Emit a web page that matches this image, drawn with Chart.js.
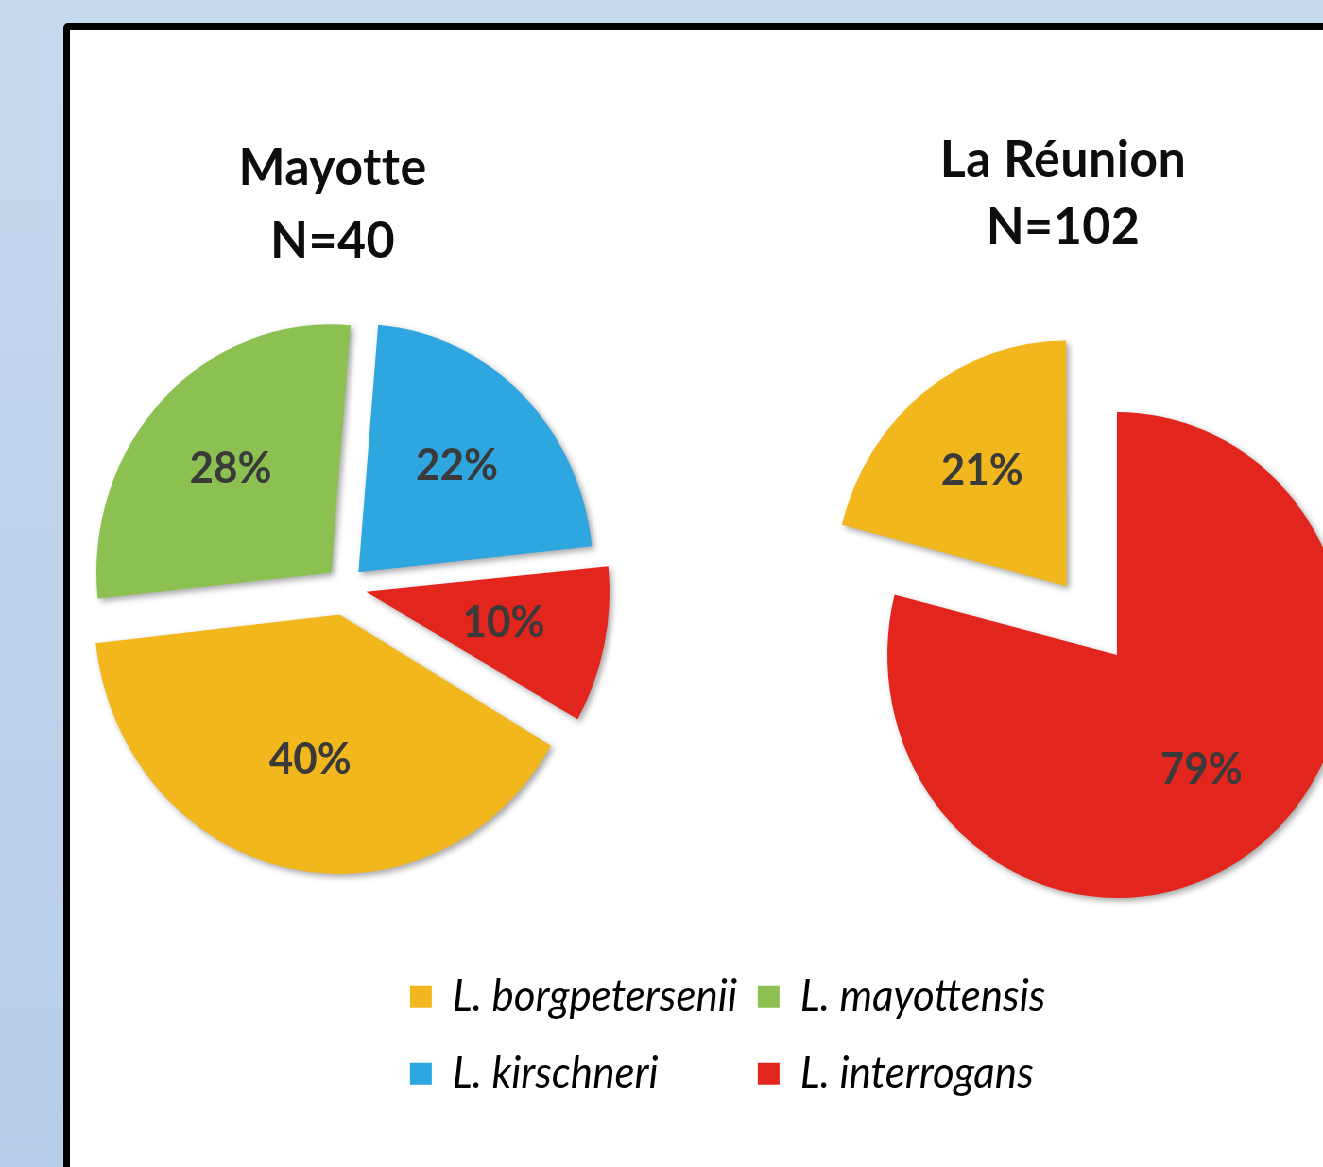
<!DOCTYPE html>
<html>
<head>
<meta charset="utf-8">
<script src="https://cdn.jsdelivr.net/npm/chart.js@4.4.1/dist/chart.umd.min.js"></script>
<style>
  html, body { margin: 0; padding: 0; width: 1323px; height: 1167px; overflow: hidden; }
  body { position: relative; background: linear-gradient(to bottom, #c6daef 0%, #bdd3ea 50%, #b6cee7 100%); }
  #panel { position: absolute; left: 63px; top: 23px; width: 1400px; height: 1400px; background: #fff;
           border: 7px solid #000; border-radius: 5px; box-sizing: border-box; }
  #stage { position: absolute; left: 0; top: 0; width: 2200px; height: 1167px;
           transform: scaleX(0.945); transform-origin: 0 0; }
  #stage canvas { position: absolute; }
</style>
</head>
<body>
<div id="panel"></div>
<div id="stage">
  <canvas id="mayotte" width="640" height="1000" style="left:45px; top:87px;"></canvas>
  <canvas id="reunion" width="640" height="1100" style="left:862px; top:105px;"></canvas>
  <canvas id="legend"></canvas>
</div>
<script>
// ---------------- data ----------------
const species = ['L. borgpetersenii', 'L. mayottensis', 'L. kirschneri', 'L. interrogans'];
const speciesColors = ['#F2B71D', '#8CC152', '#2EA6DF', '#E2261D'];
const mayotteShares = [40, 28, 22, 10];   // %
const reunionShares = [21, 0, 0, 79];     // %
const mayotteTitle = ['Mayotte', 'N=40'];
const reunionTitle = ['La Réunion', 'N=102'];
const legendOrder = [0, 2, 1, 3];         // column-major order of the two-column legend

// ---------------- plugins ----------------
function makeTitlePlugin(lines, dx, firstBaseline, lineGap) {
  return {
    id: 'titleLines',
    afterDraw(chart) {
      const ctx = chart.ctx, ca = chart.chartArea;
      ctx.save();
      ctx.font = 'bold 52px Lato';
      if ('letterSpacing' in ctx) ctx.letterSpacing = '0.4px';
      ctx.fillStyle = '#0d0d0d';
      ctx.textAlign = 'center';
      ctx.textBaseline = 'alphabetic';
      const cx = (ca.left + ca.right) / 2 + dx;
      lines.forEach((t, i) => ctx.fillText(t, cx, firstBaseline + i * lineGap));
      ctx.restore();
    }
  };
}

const shadowPlugin = {
  id: 'sliceShadow',
  beforeDatasetsDraw(chart) {
    const ctx = chart.ctx;
    ctx.save();
    ctx.shadowColor = 'rgba(0,0,0,0.35)';
    ctx.shadowBlur = 6;
    ctx.shadowOffsetX = 3;
    ctx.shadowOffsetY = 3;
  },
  afterDatasetsDraw(chart) { chart.ctx.restore(); }
};

function makePctPlugin(frac) {
  return {
    id: 'pctLabels',
    afterDatasetsDraw(chart) {
      const ctx = chart.ctx;
      const meta = chart.getDatasetMeta(0);
      const values = chart.data.datasets[0].data;
      ctx.save();
      ctx.font = 'bold 44px Lato';
      ctx.fillStyle = '#3a3a3a';
      ctx.textAlign = 'center';
      ctx.textBaseline = 'middle';
      meta.data.forEach((arc, i) => {
        const v = values[i];
        if (!v) return;
        const p = arc.getProps(['x', 'y', 'startAngle', 'endAngle', 'outerRadius'], true);
        const a = (p.startAngle + p.endAngle) / 2;
        const d = (arc.options.offset || 0) / 4 + frac * p.outerRadius;
        ctx.fillText(v + '%', p.x + Math.cos(a) * d, p.y + Math.sin(a) * d);
      });
      ctx.restore();
    }
  };
}

function makePie(id, shares, offsets, rotation, radius, titlePlugin) {
  return new Chart(document.getElementById(id), {
    type: 'pie',
    data: {
      labels: species,
      datasets: [{
        data: shares,
        backgroundColor: speciesColors,
        borderWidth: 0,
        offset: offsets,
        clip: false
      }]
    },
    options: {
      responsive: false,
      animation: false,
      events: [],
      rotation: rotation,
      radius: radius,
      layout: { padding: 0 },
      plugins: { legend: { display: false }, tooltip: { enabled: false } }
    },
    plugins: [shadowPlugin, makePctPlugin(0.6), titlePlugin]
  });
}

// Mayotte: all slices exploded, first slice angle 120°
makePie('mayotte', mayotteShares, [112, 82, 82, 92], 120, 248,
        makeTitlePlugin(mayotteTitle, -13, 98, 73));
// La Réunion: only L. borgpetersenii exploded
makePie('reunion', reunionShares, [348, 0, 0, 0], 360 - reunionShares[0] * 3.6, 243,
        makeTitlePlugin(reunionTitle, -57, 72, 67));

// ---------------- legend (two columns) ----------------
const legendFontSize = 44, boxW = 23, boxH = 22;
const col1X = 434, col2X = 802, row1Y = 997, rowGap = 77;
const mctx = document.createElement('canvas').getContext('2d');
mctx.font = 'italic ' + legendFontSize + 'px Lato';
const col1W = Math.max(mctx.measureText(species[0]).width, mctx.measureText(species[2]).width)
              + boxW + legendFontSize / 2;
const pad = Math.max(4, col2X - col1X - col1W);
const lc = document.getElementById('legend');
lc.width = 1700;
lc.height = Math.round(170 + 1.5 * pad);
lc.style.left = (col1X - pad) + 'px';
lc.style.top = (row1Y - pad - legendFontSize / 2) + 'px';

new Chart(lc, {
  type: 'bar',
  data: {
    labels: [],
    datasets: species.map((s, i) => ({ label: s, data: [], backgroundColor: speciesColors[i] }))
  },
  options: {
    responsive: false,
    animation: false,
    events: [],
    layout: { padding: 0 },
    scales: { x: { display: false }, y: { display: false } },
    plugins: {
      tooltip: { enabled: false },
      legend: {
        position: 'left',
        align: 'start',
        labels: {
          boxWidth: boxW,
          boxHeight: boxH,
          padding: pad,
          color: '#111',
          font: { family: 'Lato', size: legendFontSize, style: 'italic', lineHeight: (rowGap - pad) / legendFontSize },
          generateLabels: () => legendOrder.map(i => ({
            text: [species[i]],
            fillStyle: speciesColors[i],
            strokeStyle: speciesColors[i],
            lineWidth: 0,
            hidden: false,
            datasetIndex: i
          }))
        }
      }
    }
  }
});
</script>
</body>
</html>
